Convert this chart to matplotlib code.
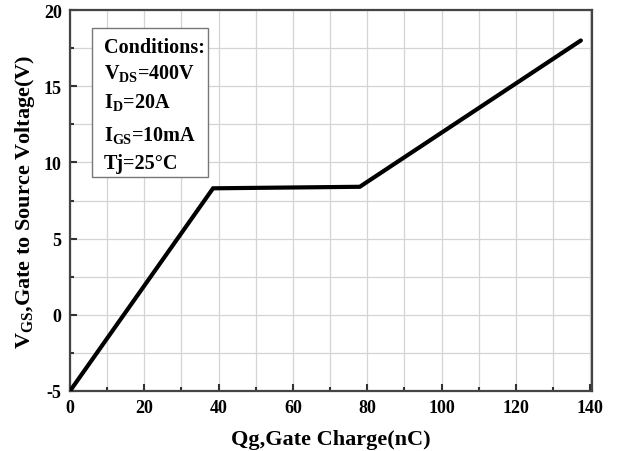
import matplotlib.pyplot as plt
from matplotlib.ticker import MultipleLocator

# gate charge curve (nC, V)
qg = [0, 38.5, 78, 137.5]
vgs = [-5, 8.3, 8.4, 18.0]

x_ticks = [0, 20, 40, 60, 80, 100, 120, 140]
y_ticks = [-5, 0, 5, 10, 15, 20]

conditions = ["Conditions:", "V$_{DS}$=400V", "I$_{D}$=20A", "I$_{GS}$=10mA", "Tj=25\u00b0C"]

plt.rcParams['font.family'] = 'Liberation Serif'
plt.rcParams['font.weight'] = 'bold'
plt.rcParams['axes.unicode_minus'] = False
plt.rcParams['mathtext.fontset'] = 'custom'
plt.rcParams['mathtext.bf'] = 'Liberation Serif:bold'
plt.rcParams['mathtext.rm'] = 'Liberation Serif:bold'
plt.rcParams['mathtext.default'] = 'bf'

fig = plt.figure(figsize=(6.18, 4.52), dpi=100)
ax = fig.add_axes([70 / 618, 1 - 392 / 452, 522 / 618, 381 / 452])

ax.plot(qg, vgs, color='black', lw=3, solid_joinstyle='miter', solid_capstyle='round', zorder=3)

ax.set_xlim(0, 140.5)
ax.set_ylim(-5, 20)
ax.set_xticks(x_ticks)
ax.set_yticks(y_ticks)
ax.xaxis.set_minor_locator(MultipleLocator(10))
ax.yaxis.set_minor_locator(MultipleLocator(2.5))
ax.grid(True, which='both', color='#d4d4d4', lw=0.9)
ax.set_axisbelow(True)
ax.tick_params(which='both', direction='in', labelsize=13, width=1.5, colors='#333333', labelcolor='black')
ax.tick_params(which='major', length=5, pad=6)
ax.tick_params(which='minor', length=3)
for lab in ax.get_xticklabels() + ax.get_yticklabels():
    lab.set_fontweight('bold')
for s in ax.spines.values():
    s.set_linewidth(1.6)
    s.set_color('#444444')

ax.set_xlabel('Qg,Gate Charge(nC)', fontsize=16, fontweight='bold', labelpad=9)
ax.set_ylabel('V$_{GS}$,Gate to Source Voltage(V)', fontsize=16, fontweight='bold', labelpad=5)

# conditions box
ax.add_patch(plt.Rectangle((5.9, 9.05), 31.2, 9.75, fill=True, facecolor='white',
                           edgecolor='#777777', lw=1.0, zorder=2))
ys = [17.6, 15.9, 14.0, 11.8, 9.95]
for t, y in zip(conditions, ys):
    ax.text(9.2, y, t, fontsize=14.5, fontweight='bold', va='center', ha='left', zorder=4)

fig.savefig('out.png', dpi=100)
